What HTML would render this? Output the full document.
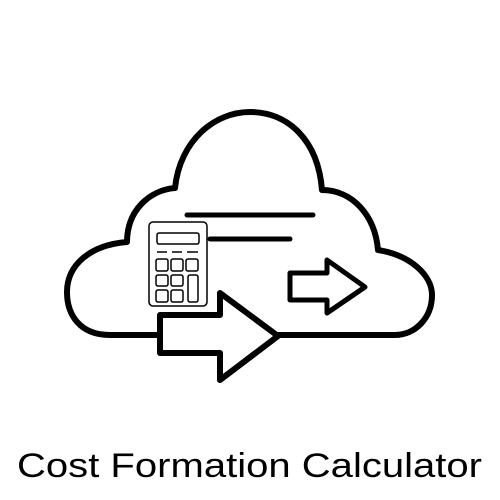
<!DOCTYPE html>
<html><head><style>html,body{margin:0;padding:0;background:#fff;}svg{display:block}</style></head>
<body>
<svg width="500" height="500" viewBox="0 0 500 500" xmlns="http://www.w3.org/2000/svg">
<g fill="none" stroke="#000" stroke-width="6" stroke-linejoin="round" stroke-linecap="round">
<path d="M110 335 C80 335 67 315 67 292 C67 265 90 245 127 242 C127 210 150 190 175 188 C180 140 215 112 250 112 C288 112 318 140 322 190 C352 190 375 215 378 250 C410 255 432 275 432 295 C432 318 415 335 395 335 Z"/>
</g>
<line x1="187" y1="215" x2="313" y2="215" stroke="#000" stroke-width="5" stroke-linecap="round"/>
<line x1="210" y1="239" x2="290" y2="239" stroke="#000" stroke-width="5" stroke-linecap="round"/>
<g fill="#fff" stroke="#000" stroke-width="1.5">
<rect x="149" y="222" width="58" height="84" rx="4"/>
<rect x="157" y="233" width="42" height="11" rx="2"/>
<rect x="156" y="259" width="12" height="12" rx="2"/>
<rect x="171" y="259" width="12" height="12" rx="2"/>
<rect x="186" y="259" width="12" height="12" rx="2"/>
<rect x="156" y="275" width="12" height="11" rx="2"/>
<rect x="171" y="275" width="12" height="11" rx="2"/>
<rect x="188" y="275" width="10" height="27" rx="2"/>
<rect x="156" y="290" width="12" height="12" rx="2"/>
<rect x="171" y="290" width="12" height="12" rx="2"/>
</g>
<g stroke="#000" stroke-width="1.5">
<line x1="157" y1="252" x2="167" y2="252"/><line x1="172" y1="252" x2="182" y2="252"/><line x1="187" y1="252" x2="198" y2="252"/>
</g>
<path d="M160 315 L220 315 L220 293 L278 336 L220 380 L220 353 L160 353 Z" fill="#fff" stroke="#000" stroke-width="6" stroke-linejoin="round"/>
<path d="M290 273 L327 273 L327 260 L365 287 L327 313 L327 300 L290 300 Z" fill="#fff" stroke="#000" stroke-width="5" stroke-linejoin="round"/>
<text x="17" y="477" font-family="Liberation Sans, sans-serif" font-size="34" textLength="465" lengthAdjust="spacingAndGlyphs" fill="#000">Cost Formation Calculator</text>
</svg>
</body></html>
